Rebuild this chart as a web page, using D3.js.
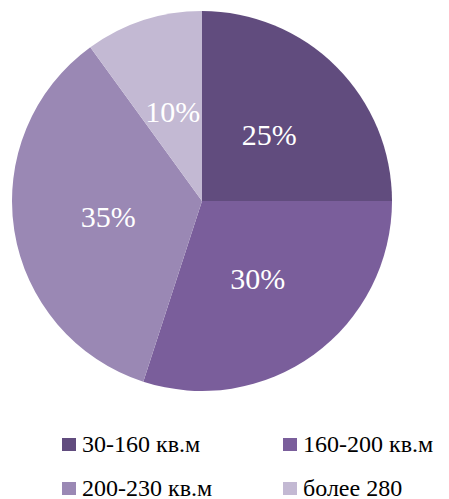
<!DOCTYPE html>
<html><head><meta charset="utf-8"><script src="https://cdn.jsdelivr.net/npm/d3@7"></script></head>
<body style="margin:0">
<svg id="chart" width="449" height="499"></svg>
<script>
const categories = ["30-160 кв.м", "160-200 кв.м", "200-230 кв.м", "более 280"];
const values = [25, 30, 35, 10];
const labels = ["25%", "30%", "35%", "10%"];
const colors = ["#614c7e", "#7a5e9b", "#9a88b4", "#c3b9d3"];

const svg = d3.select("#chart").style("display", "block");
const cx = 202, cy = 201, r = 190;

const pie = d3.pie().sort(null).value(d => d);
const arcs = pie(values);
const arc = d3.arc().innerRadius(0).outerRadius(r);
const labelArc = d3.arc().innerRadius(r * 0.5).outerRadius(r * 0.5);

svg.selectAll("path").data(arcs).enter().append("path")
  .attr("transform", `translate(${cx},${cy})`)
  .attr("d", arc)
  .attr("fill", (d, i) => colors[i]);

svg.selectAll("text.lbl").data(arcs).enter().append("text")
  .attr("class", "lbl")
  .attr("x", d => cx + labelArc.centroid(d)[0])
  .attr("y", d => cy + labelArc.centroid(d)[1] + 11)
  .attr("text-anchor", "middle")
  .attr("font-size", 30)
  .style("font-family", d => `"Liberation Serif"`)
  .attr("fill", "#fff")
  .text((d, i) => labels[i]);

// legend
const legX = [62, 283], legY = [444, 488];
svg.selectAll("rect.leg").data(categories).enter().append("rect")
  .attr("class", "leg")
  .attr("x", (d, i) => legX[i % 2])
  .attr("y", (d, i) => legY[Math.floor(i / 2)] - 6)
  .attr("width", 14).attr("height", 13)
  .attr("fill", (d, i) => colors[i]);
svg.selectAll("text.leg").data(categories).enter().append("text")
  .attr("class", "leg")
  .attr("x", (d, i) => legX[i % 2] + 20)
  .attr("y", (d, i) => legY[Math.floor(i / 2)] + 7.5)
  .attr("font-size", 24)
  .style("font-family", d => `"Liberation Serif"`)
  .attr("fill", "#000")
  .text(d => d);
</script></body></html>
